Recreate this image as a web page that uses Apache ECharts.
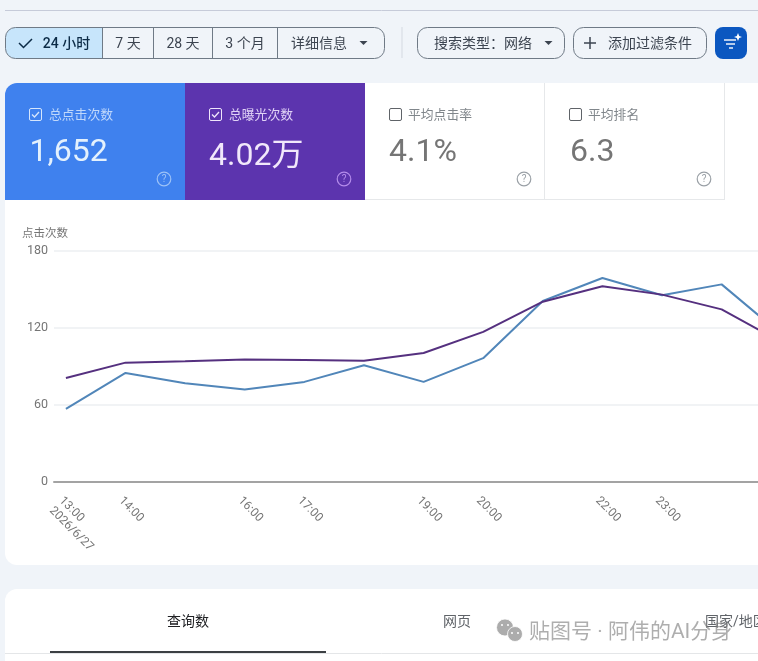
<!DOCTYPE html>
<html>
<head>
<meta charset="utf-8">
<title>点击次数</title>
<script src="https://cdn.jsdelivr.net/npm/echarts@6/dist/echarts.min.js"></script>
<style>html,body{margin:0;padding:0;background:#f0f4f9;overflow:hidden}#c{width:758px;height:661px}</style>
</head>
<body>
<div id="c"></div>
<script>
// ---- data ----
const hours = [13, 14, 15, 16, 17, 18, 19, 20, 21, 22, 23, 24, 25];
const clicks = [57, 85, 77, 72, 78, 91, 78, 96.5, 141, 159, 145.5, 154, 115];
const impressionsScaled = [81, 93, 94, 95.5, 95, 94.5, 100.5, 117, 140.5, 152.5, 146, 134.5, 109];
const tickHours = [13, 14, 16, 17, 19, 20, 22, 23];
const tickLabels = ['13:00\n2026/6/27', '14:00', '16:00', '17:00', '19:00', '20:00', '22:00', '23:00'];
const yTickStep = 60;
const yAxisTitle = '点击次数';

// ---- page chrome ----
const FONT = 'Roboto, "Noto Sans CJK SC", sans-serif';
const g = [];
const rect = (x, y, w, h, fill, r, stroke, z) => g.push({
  type: 'rect', z: z === undefined ? -5 : z, silent: true,
  shape: { x, y, width: w, height: h, r: r || 0 },
  style: { fill: fill || 'transparent', stroke: stroke || null, lineWidth: stroke ? 1 : 0 }
});
const text = (x, y, t, size, fill, align, extra) => g.push({
  type: 'text', z: 10, silent: true, x, y: y + 1,
  style: Object.assign({ text: t, font: `${size}px ${FONT}`, fill, align: align || 'left', verticalAlign: 'middle' }, extra || {})
});
const line = (pts, stroke, w, z) => g.push({
  type: 'polyline', z: z === undefined ? 10 : z, silent: true,
  shape: { points: pts }, style: { stroke, lineWidth: w || 1, fill: null }
});
const tri = (cx, cy, fill) => g.push({
  type: 'polygon', z: 10, silent: true,
  shape: { points: [[cx - 4, cy - 2], [cx + 4, cy - 2], [cx, cy + 2]] }, style: { fill }
});
const qmark = (cx, cy, col) => {
  g.push({ type: 'circle', z: 10, silent: true, shape: { cx, cy, r: 6.8 }, style: { fill: 'transparent', stroke: col, lineWidth: 1.2 } });
  text(cx, cy - 0.5, '?', 10, col, 'center');
};
const checkbox = (x, y, col, checked) => {
  rect(x + 0.5, y + 0.5, 12, 12, 'transparent', 1.5, col, 10);
  if (checked) line([[x + 3, y + 6.5], [x + 5.5, y + 9], [x + 10, y + 4]], col, 1.3);
};

// top hairline
line([[5, 10.5], [758, 10.5]], '#c6cbd9', 1, -4);

// range pill
g.push({ type: 'rect', z: -4, silent: true, shape: { x: 5.5, y: 27.5, width: 97, height: 31, r: [10, 0, 0, 10] }, style: { fill: '#c7e5fb' } });
rect(5.5, 27.5, 379, 31, 'transparent', 10, '#6f7a86', 9);
[102.5, 153.5, 212.5, 277.5].forEach(x => line([[x, 28], [x, 58]], '#6f7a86', 1));
line([[19, 43], [23.5, 47.5], [32, 39]], '#0c2b46', 1.5);
text(66.5, 43.5, '24 小时', 14, '#0c2b46', 'center', { font: `500 14px ${FONT}` });
text(128, 43.5, '7 天', 14, '#3c4450', 'center');
text(183, 43.5, '28 天', 14, '#3c4450', 'center');
text(245, 43.5, '3 个月', 14, '#3c4450', 'center');
text(291, 43.5, '详细信息', 14, '#3c4450');
tri(363.5, 43, '#3c4450');
line([[402, 27], [402, 58]], '#d4d9e1', 1);
rect(417.5, 27.5, 147, 31, 'transparent', 10, '#6f7a86', 9);
text(434, 43.5, '搜索类型：网络', 14, '#3c4450');
tri(548.5, 43, '#3c4450');
rect(573.5, 27.5, 133, 31, 'transparent', 10, '#6f7a86', 9);
line([[584, 43], [596, 43]], '#3c4450', 1.5);
line([[590, 37], [590, 49]], '#3c4450', 1.5);
text(608, 43.5, '添加过滤条件', 14, '#3c4450');
rect(715, 27, 32, 32, '#0b57c0', 8, null, 8);
line([[724, 40], [736, 40]], '#ffffff', 1.4);
line([[726, 44], [735, 44]], '#ffffff', 1.4);
line([[729, 48], [733, 48]], '#ffffff', 1.4);
g.push({ type: 'polygon', z: 10, silent: true, shape: { points: [[738, 33], [739.2, 36], [742, 37], [739.2, 38], [738, 41], [736.8, 38], [734, 37], [736.8, 36]] }, style: { fill: '#ffffff' } });

// main white card
rect(5, 83, 753, 482, '#ffffff', [12, 0, 0, 12], null, -5);
// metric tiles
g.push({ type: 'rect', z: -4, silent: true, shape: { x: 5, y: 83, width: 180, height: 117, r: [12, 0, 0, 0] }, style: { fill: '#3f81ee' } });
rect(185, 83, 180, 117, '#5c34ae', 0, null, -4);
line([[544.5, 83], [544.5, 200]], '#e6e8ea', 1, -3);
line([[724.5, 83], [724.5, 200]], '#e6e8ea', 1, -3);
line([[365, 199.5], [725, 199.5]], '#e6e8ea', 1, -3);

checkbox(29, 108, '#d6e6fc', true);
text(49, 114.5, '总点击次数', 12.8, '#c0d8fb');
text(29.5, 152, '1,652', 32, '#e4f1fd');
qmark(164, 179, '#9dc2f7');

checkbox(209, 108, '#efe6fb', true);
text(229, 114.5, '总曝光次数', 12.8, '#e0d2f6');
text(209, 156, '4.02万', 32, '#f1e8fb');
qmark(344, 179, '#b48ceb');

checkbox(389, 108, '#5f6368', false);
text(408, 114.5, '平均点击率', 12.8, '#80868b');
text(389, 152, '4.1%', 32, '#757575');
qmark(524, 179, '#9aa0a6');

checkbox(569, 108, '#5f6368', false);
text(588, 114.5, '平均排名', 12.8, '#80868b');
text(570, 152, '6.3', 32, '#757575');
qmark(704, 179, '#9aa0a6');

// lower card
rect(5, 589, 753, 90, '#ffffff', [12, 0, 0, 0], null, -5);
line([[5, 653.5], [758, 653.5]], '#e4e6e8', 1, -3);
text(188, 621.5, '查询数', 14, '#202124', 'center');
rect(50, 651, 276, 2, '#3c4043', 0, null, 9);
text(457, 621.5, '网页', 14, '#5f6368', 'center');
text(705, 621.5, '国家/地区', 14, '#5f6368');
// watermark
[[505, 627.5, 8.5], [515, 634, 7.5]].forEach(c => g.push({
  type: 'circle', z: 11, silent: true, shape: { cx: c[0], cy: c[1], r: c[2] },
  style: { fill: 'rgb(172,172,172)', stroke: '#fff', lineWidth: 0.8 }
}));
[[502, 625], [508, 625], [512, 633], [518, 633]].forEach(c => g.push({
  type: 'circle', z: 12, silent: true, shape: { cx: c[0], cy: c[1], r: 1 }, style: { fill: '#fff' }
}));
text(529, 632, '贴图号 · 阿伟的AI分身', 21, 'rgba(125,125,125,0.62)');

// ---- chart ----
const chart = echarts.init(document.getElementById('c'), null, { renderer: 'canvas' });
chart.setOption({
  animation: false,
  backgroundColor: '#f0f4f9',
  textStyle: { fontFamily: FONT },
  graphic: { elements: g },
  grid: { left: 54, top: 251, width: 704, height: 231, containLabel: false },
  xAxis: {
    type: 'value', min: 12.8, max: 24.61,
    axisLine: { show: true, onZero: false, lineStyle: { color: '#a3a3a3', width: 2 } },
    axisTick: { show: false },
    splitLine: { show: false },
    axisLabel: {
      customValues: tickHours, rotate: -45, margin: 12, fontSize: 12, color: '#757575',
      align: 'left', verticalAlign: 'top', lineHeight: 14, hideOverlap: false, showMinLabel: true,
      formatter: v => tickLabels[tickHours.indexOf(v)] || ''
    }
  },
  yAxis: {
    type: 'value', min: 0, max: 180, interval: yTickStep,
    name: yAxisTitle, nameLocation: 'end', nameGap: 11,
    nameTextStyle: { color: '#757575', fontSize: 11.5, align: 'left', padding: [0, 0, 0, -32] },
    axisLine: { show: false }, axisTick: { show: false },
    axisLabel: { margin: 6, fontSize: 12.5, color: '#757575', padding: [4, 0, 0, 0] },
    splitLine: { show: true, lineStyle: { color: '#f1f3f5', width: 2 } }
  },
  series: [
    { type: 'line', name: '总点击次数', data: hours.map((h, i) => [h, clicks[i]]), showSymbol: false, clip: true,
      lineStyle: { color: '#5186b9', width: 2 } },
    { type: 'line', name: '总曝光次数', data: hours.map((h, i) => [h, impressionsScaled[i]]), showSymbol: false, clip: true,
      lineStyle: { color: '#55307f', width: 2 } }
  ]
});
</script>
</body>
</html>
